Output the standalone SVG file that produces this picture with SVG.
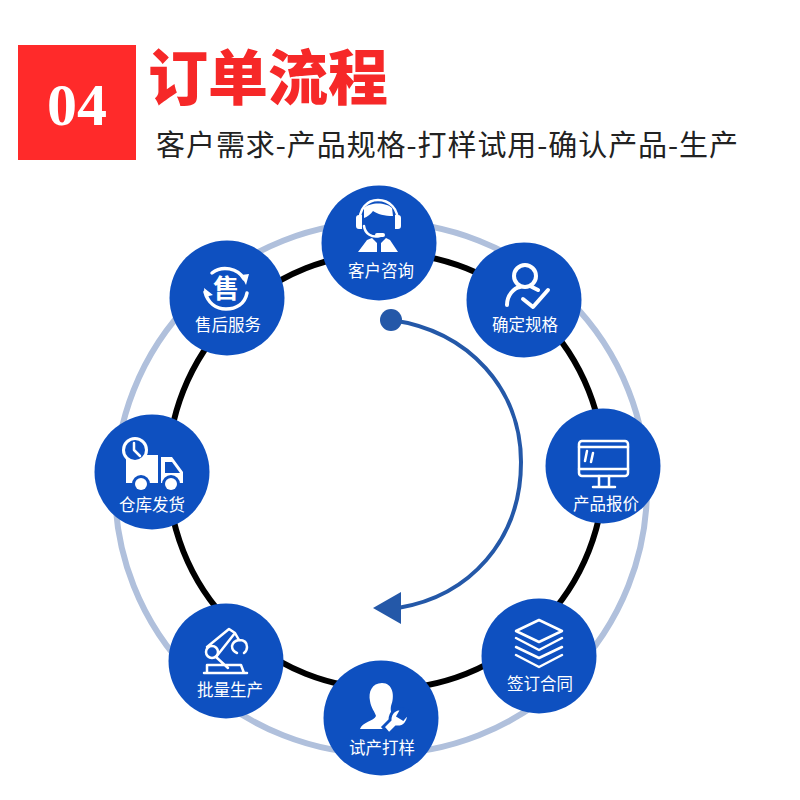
<svg xmlns="http://www.w3.org/2000/svg" width="800" height="800" viewBox="0 0 800 800">
<style>
text{font-family:"Noto Sans CJK SC","Noto Sans",sans-serif}
.n{fill:#0e50c0}
.l{fill:#fff;font-size:16.5px;text-anchor:middle}
.f{fill:#fff}
.s{fill:none;stroke:#fff;stroke-width:2.5;stroke-linejoin:round;stroke-linecap:round}
.s2{fill:none;stroke:#fff;stroke-width:4;stroke-linecap:round;stroke-linejoin:round}
</style>
<rect width="800" height="800" fill="#fff"/>
<g id="header">
<rect x="18" y="45" width="118" height="115" fill="#ff2a2a"/>
<text x="77" y="125" font-size="60" font-weight="700" fill="#fff" text-anchor="middle" style="font-family:'Liberation Serif',serif">04</text>
<text x="148" y="100" font-size="60" font-weight="900" fill="#f62828">订单流程</text>
<text x="156" y="156" font-size="29" fill="#222" textLength="582">客户需求-产品规格-打样试用-确认产品-生产</text>
</g>
<g id="connectors">
<circle cx="381" cy="488" r="266" fill="none" stroke="#b0c0dc" stroke-width="6"/>
<circle cx="386" cy="471" r="218" fill="none" stroke="#000" stroke-width="6"/>
<path d="M391 320C470 331 521 390 521 462C521 540 470 596 398 608" fill="none" stroke="#2458a8" stroke-width="4"/>
<circle cx="391" cy="320" r="11" fill="#2458a8"/>
<path d="M373 608L401 592V624Z" fill="#2458a8"/>
</g>
<g id="n1"><circle class="n" cx="379" cy="243" r="57.500"/>
<path class="s" d="M360 224C358 208 368 200 378 200C388 200 400 208 397 224"/>
<path class="f" d="M359 215h3v14h-3a3 3 0 0 1-3-3v-8a3 3 0 0 1 3-3ZM395 215h3a3 3 0 0 1 3 3v8a3 3 0 0 1-3 3h-3Z"/>
<path class="f" d="M364 208C370 202 386 202 392 208L393 216C385 216 377 214 373 211C371 214 367 217 364 218Z"/>
<path class="s" d="M364 226C365 234 372 238 380 236"/>
<rect class="f" x="375" y="233" width="10" height="4" rx="2"/>
<path class="f" d="M358 252L367 240L372 238L377 243V252ZM381 252V243L386 238L390 240L398 252Z"/>
<text class="l" x="381" y="277">客户咨询</text></g>
<g id="n2"><circle class="n" cx="524" cy="300" r="57.500"/>
<circle class="s2" cx="525" cy="276" r="11"/>
<path class="s2" d="M507 305C507 295 514 288 520 287M532 287L538 290"/>
<path class="s2" d="M523 299L533 307L548 290"/>
<text class="l" x="525" y="331">确定规格</text></g>
<g id="n3"><circle class="n" cx="603" cy="466" r="57.500"/>
<rect class="s" x="579" y="441" width="49" height="35" rx="3"/>
<path class="s" d="M579 447H628M579 469H628M599 476V486M609 476V486M593 487H615M587 451L585 461M593 453L591 462"/>
<text class="l" x="606" y="510">产品报价</text></g>
<g id="n4"><circle class="n" cx="539" cy="656" r="57.500"/>
<path class="s" d="M516 631L539 620L562 631L539 642Z"/>
<path class="s" d="M516 638L539 650L562 638M516 647L539 658L562 647M516 655L539 667L562 655"/>
<text class="l" x="540" y="690">签订合同</text></g>
<g id="n5"><circle class="n" cx="381" cy="718" r="57.500"/>
<path class="f" d="M382 683C372 683 368 692 370 701C371 708 375 712 376 716C374 721 362 722 360 729H386L394 718C392 714 390 712 391 706C395 696 393 683 382 683Z"/>
<path class="f" stroke="#0e50c0" stroke-width="3" d="M408 713L403 719L398 716L402 709C396 708 390 712 390 720L383 727L389 734L396 727C404 728 410 721 408 713Z"/>
<text class="l" x="382" y="754">试产打样</text></g>
<g id="n6"><circle class="n" cx="226" cy="661" r="57.500"/>
<circle class="s" cx="212" cy="652" r="6"/>
<path class="s" d="M207 647L229 629L235 633L216 657M216 657L228 668M207 673V665H241L244 673M204 673H247M235 633L239 640"/>
<path class="s" d="M239 640Q233 641 232 646Q232 651 237 653M239 640Q247 640 247 647Q247 651 244 653"/>
<text class="l" x="230" y="696">批量生产</text></g>
<g id="n7"><circle class="n" cx="152" cy="472" r="57.500"/>
<path class="f" d="M126 455H158V483H126ZM161 457H172L183 472V483H161Z"/>
<circle class="f" cx="135" cy="450" r="13"/><circle class="n" cx="135" cy="450" r="10"/>
<path class="s" d="M134 443V450L140 456"/>
<path class="n" d="M165 462V473H180L172 462Z"/>
<circle class="n" cx="141" cy="484" r="9"/><circle class="n" cx="171" cy="484" r="9"/>
<circle class="f" cx="141" cy="484" r="6"/><circle class="f" cx="171" cy="484" r="6"/>
<text class="l" x="152" y="511">仓库发货</text></g>
<g id="n8"><circle class="n" cx="227" cy="298" r="57.500"/>
<path class="s" style="stroke-width:3.500" d="M212 273C222 265 238 268 244 279M247 293C245 304 236 309 226 309C216 309 208 303 205 292"/>
<path class="f" d="M241 275L249 274L246 285ZM205 297L213 295L204 288Z"/>
<text class="f" x="226" y="298" font-size="26" font-weight="700" text-anchor="middle">售</text>
<text class="l" x="228" y="331">售后服务</text></g>
</svg>
